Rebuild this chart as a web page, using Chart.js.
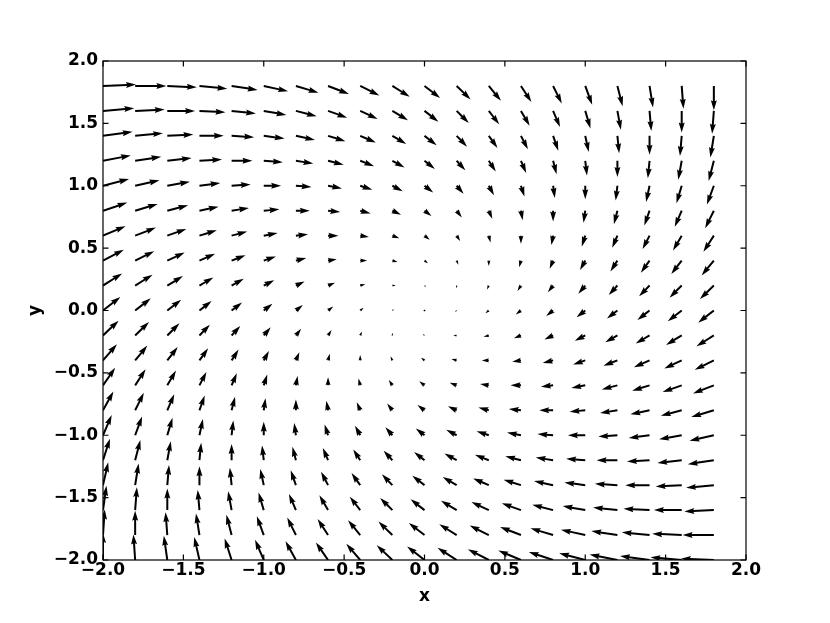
<!DOCTYPE html>
<html>
<head>
<meta charset="utf-8">
<script src="https://cdn.jsdelivr.net/npm/chart.js@4"></script>
<style>
	body { margin: 0; background: #fff; }
</style>
</head>
<body>
<canvas id="quiver-chart" width="830" height="623"></canvas>
<script>
// grid of arrow tails
const xs = [-2.0, -1.8, -1.6, -1.4, -1.2, -1.0, -0.8, -0.6, -0.4, -0.2, 0.0, 0.2, 0.4, 0.6, 0.8, 1.0, 1.2, 1.4, 1.6, 1.8]
const ys = [-2.0, -1.8, -1.6, -1.4, -1.2, -1.0, -0.8, -0.6, -0.4, -0.2, 0.0, 0.2, 0.4, 0.6, 0.8, 1.0, 1.2, 1.4, 1.6, 1.8]

// arrow components, one row per y value (bottom row first)
const U = [
	[0.0, -0.2, -0.4, -0.6, -0.8, -1.0, -1.2, -1.4, -1.6, -1.8, -2.0, -2.2, -2.4, -2.6, -2.8, -3.0, -3.2, -3.4, -3.6, -3.8],
	[0.2, 0.0, -0.2, -0.4, -0.6, -0.8, -1.0, -1.2, -1.4, -1.6, -1.8, -2.0, -2.2, -2.4, -2.6, -2.8, -3.0, -3.2, -3.4, -3.6],
	[0.4, 0.2, 0.0, -0.2, -0.4, -0.6, -0.8, -1.0, -1.2, -1.4, -1.6, -1.8, -2.0, -2.2, -2.4, -2.6, -2.8, -3.0, -3.2, -3.4],
	[0.6, 0.4, 0.2, 0.0, -0.2, -0.4, -0.6, -0.8, -1.0, -1.2, -1.4, -1.6, -1.8, -2.0, -2.2, -2.4, -2.6, -2.8, -3.0, -3.2],
	[0.8, 0.6, 0.4, 0.2, 0.0, -0.2, -0.4, -0.6, -0.8, -1.0, -1.2, -1.4, -1.6, -1.8, -2.0, -2.2, -2.4, -2.6, -2.8, -3.0],
	[1.0, 0.8, 0.6, 0.4, 0.2, 0.0, -0.2, -0.4, -0.6, -0.8, -1.0, -1.2, -1.4, -1.6, -1.8, -2.0, -2.2, -2.4, -2.6, -2.8],
	[1.2, 1.0, 0.8, 0.6, 0.4, 0.2, 0.0, -0.2, -0.4, -0.6, -0.8, -1.0, -1.2, -1.4, -1.6, -1.8, -2.0, -2.2, -2.4, -2.6],
	[1.4, 1.2, 1.0, 0.8, 0.6, 0.4, 0.2, 0.0, -0.2, -0.4, -0.6, -0.8, -1.0, -1.2, -1.4, -1.6, -1.8, -2.0, -2.2, -2.4],
	[1.6, 1.4, 1.2, 1.0, 0.8, 0.6, 0.4, 0.2, 0.0, -0.2, -0.4, -0.6, -0.8, -1.0, -1.2, -1.4, -1.6, -1.8, -2.0, -2.2],
	[1.8, 1.6, 1.4, 1.2, 1.0, 0.8, 0.6, 0.4, 0.2, 0.0, -0.2, -0.4, -0.6, -0.8, -1.0, -1.2, -1.4, -1.6, -1.8, -2.0],
	[2.0, 1.8, 1.6, 1.4, 1.2, 1.0, 0.8, 0.6, 0.4, 0.2, 0.0, -0.2, -0.4, -0.6, -0.8, -1.0, -1.2, -1.4, -1.6, -1.8],
	[2.2, 2.0, 1.8, 1.6, 1.4, 1.2, 1.0, 0.8, 0.6, 0.4, 0.2, 0.0, -0.2, -0.4, -0.6, -0.8, -1.0, -1.2, -1.4, -1.6],
	[2.4, 2.2, 2.0, 1.8, 1.6, 1.4, 1.2, 1.0, 0.8, 0.6, 0.4, 0.2, 0.0, -0.2, -0.4, -0.6, -0.8, -1.0, -1.2, -1.4],
	[2.6, 2.4, 2.2, 2.0, 1.8, 1.6, 1.4, 1.2, 1.0, 0.8, 0.6, 0.4, 0.2, 0.0, -0.2, -0.4, -0.6, -0.8, -1.0, -1.2],
	[2.8, 2.6, 2.4, 2.2, 2.0, 1.8, 1.6, 1.4, 1.2, 1.0, 0.8, 0.6, 0.4, 0.2, 0.0, -0.2, -0.4, -0.6, -0.8, -1.0],
	[3.0, 2.8, 2.6, 2.4, 2.2, 2.0, 1.8, 1.6, 1.4, 1.2, 1.0, 0.8, 0.6, 0.4, 0.2, 0.0, -0.2, -0.4, -0.6, -0.8],
	[3.2, 3.0, 2.8, 2.6, 2.4, 2.2, 2.0, 1.8, 1.6, 1.4, 1.2, 1.0, 0.8, 0.6, 0.4, 0.2, 0.0, -0.2, -0.4, -0.6],
	[3.4, 3.2, 3.0, 2.8, 2.6, 2.4, 2.2, 2.0, 1.8, 1.6, 1.4, 1.2, 1.0, 0.8, 0.6, 0.4, 0.2, 0.0, -0.2, -0.4],
	[3.6, 3.4, 3.2, 3.0, 2.8, 2.6, 2.4, 2.2, 2.0, 1.8, 1.6, 1.4, 1.2, 1.0, 0.8, 0.6, 0.4, 0.2, 0.0, -0.2],
	[3.8, 3.6, 3.4, 3.2, 3.0, 2.8, 2.6, 2.4, 2.2, 2.0, 1.8, 1.6, 1.4, 1.2, 1.0, 0.8, 0.6, 0.4, 0.2, 0.0]
]

const V = [
	[4.0, 3.8, 3.6, 3.4, 3.2, 3.0, 2.8, 2.6, 2.4, 2.2, 2.0, 1.8, 1.6, 1.4, 1.2, 1.0, 0.8, 0.6, 0.4, 0.2],
	[3.8, 3.6, 3.4, 3.2, 3.0, 2.8, 2.6, 2.4, 2.2, 2.0, 1.8, 1.6, 1.4, 1.2, 1.0, 0.8, 0.6, 0.4, 0.2, 0.0],
	[3.6, 3.4, 3.2, 3.0, 2.8, 2.6, 2.4, 2.2, 2.0, 1.8, 1.6, 1.4, 1.2, 1.0, 0.8, 0.6, 0.4, 0.2, 0.0, -0.2],
	[3.4, 3.2, 3.0, 2.8, 2.6, 2.4, 2.2, 2.0, 1.8, 1.6, 1.4, 1.2, 1.0, 0.8, 0.6, 0.4, 0.2, 0.0, -0.2, -0.4],
	[3.2, 3.0, 2.8, 2.6, 2.4, 2.2, 2.0, 1.8, 1.6, 1.4, 1.2, 1.0, 0.8, 0.6, 0.4, 0.2, 0.0, -0.2, -0.4, -0.6],
	[3.0, 2.8, 2.6, 2.4, 2.2, 2.0, 1.8, 1.6, 1.4, 1.2, 1.0, 0.8, 0.6, 0.4, 0.2, 0.0, -0.2, -0.4, -0.6, -0.8],
	[2.8, 2.6, 2.4, 2.2, 2.0, 1.8, 1.6, 1.4, 1.2, 1.0, 0.8, 0.6, 0.4, 0.2, 0.0, -0.2, -0.4, -0.6, -0.8, -1.0],
	[2.6, 2.4, 2.2, 2.0, 1.8, 1.6, 1.4, 1.2, 1.0, 0.8, 0.6, 0.4, 0.2, 0.0, -0.2, -0.4, -0.6, -0.8, -1.0, -1.2],
	[2.4, 2.2, 2.0, 1.8, 1.6, 1.4, 1.2, 1.0, 0.8, 0.6, 0.4, 0.2, 0.0, -0.2, -0.4, -0.6, -0.8, -1.0, -1.2, -1.4],
	[2.2, 2.0, 1.8, 1.6, 1.4, 1.2, 1.0, 0.8, 0.6, 0.4, 0.2, 0.0, -0.2, -0.4, -0.6, -0.8, -1.0, -1.2, -1.4, -1.6],
	[2.0, 1.8, 1.6, 1.4, 1.2, 1.0, 0.8, 0.6, 0.4, 0.2, 0.0, -0.2, -0.4, -0.6, -0.8, -1.0, -1.2, -1.4, -1.6, -1.8],
	[1.8, 1.6, 1.4, 1.2, 1.0, 0.8, 0.6, 0.4, 0.2, 0.0, -0.2, -0.4, -0.6, -0.8, -1.0, -1.2, -1.4, -1.6, -1.8, -2.0],
	[1.6, 1.4, 1.2, 1.0, 0.8, 0.6, 0.4, 0.2, 0.0, -0.2, -0.4, -0.6, -0.8, -1.0, -1.2, -1.4, -1.6, -1.8, -2.0, -2.2],
	[1.4, 1.2, 1.0, 0.8, 0.6, 0.4, 0.2, 0.0, -0.2, -0.4, -0.6, -0.8, -1.0, -1.2, -1.4, -1.6, -1.8, -2.0, -2.2, -2.4],
	[1.2, 1.0, 0.8, 0.6, 0.4, 0.2, 0.0, -0.2, -0.4, -0.6, -0.8, -1.0, -1.2, -1.4, -1.6, -1.8, -2.0, -2.2, -2.4, -2.6],
	[1.0, 0.8, 0.6, 0.4, 0.2, 0.0, -0.2, -0.4, -0.6, -0.8, -1.0, -1.2, -1.4, -1.6, -1.8, -2.0, -2.2, -2.4, -2.6, -2.8],
	[0.8, 0.6, 0.4, 0.2, 0.0, -0.2, -0.4, -0.6, -0.8, -1.0, -1.2, -1.4, -1.6, -1.8, -2.0, -2.2, -2.4, -2.6, -2.8, -3.0],
	[0.6, 0.4, 0.2, 0.0, -0.2, -0.4, -0.6, -0.8, -1.0, -1.2, -1.4, -1.6, -1.8, -2.0, -2.2, -2.4, -2.6, -2.8, -3.0, -3.2],
	[0.4, 0.2, 0.0, -0.2, -0.4, -0.6, -0.8, -1.0, -1.2, -1.4, -1.6, -1.8, -2.0, -2.2, -2.4, -2.6, -2.8, -3.0, -3.2, -3.4],
	[0.2, 0.0, -0.2, -0.4, -0.6, -0.8, -1.0, -1.2, -1.4, -1.6, -1.8, -2.0, -2.2, -2.4, -2.6, -2.8, -3.0, -3.2, -3.4, -3.6]
]

const tickValues = [-2.0, -1.5, -1.0, -0.5, 0.0, 0.5, 1.0, 1.5, 2.0]

// arrow length in data units per unit of (u, v)
const arrowScale = 0.054
const shaftWidth = 2

const points = []
ys.forEach((y, j) => {
	xs.forEach((x, i) => {
		points.push({ x: x, y: y, u: U[j][i], v: V[j][i] })
	})
})

const fmt = value => (value < 0 ? '\u2212' : '') + Math.abs(value).toFixed(1)
const font = { family: 'DejaVu Sans', size: 17, weight: 'bold' }

// matplotlib-like arrow polygon, in units of shaft width
drawArrow = (ctx, x0, y0, x1, y1, w) => {
	const dx = x1 - x0
	const dy = y1 - y0
	let len = Math.hypot(dx, dy) / w
	ctx.save()
	ctx.translate(x0, y0)
	ctx.rotate(Math.atan2(dy, dx))
	ctx.scale(w, w)
	ctx.beginPath()
	if (len < 1) {
		for (let k = 0; k < 6; k++) {
			const a = k * Math.PI / 3
			ctx.lineTo(0.5 * Math.cos(a), 0.5 * Math.sin(a))
		}
	} else {
		if (len < 5) {
			const s = len / 5
			ctx.scale(s, s)
			len = 5
		}
		ctx.moveTo(0, 0.5)
		ctx.lineTo(len - 4.5, 0.5)
		ctx.lineTo(len - 5, 1.5)
		ctx.lineTo(len, 0)
		ctx.lineTo(len - 5, -1.5)
		ctx.lineTo(len - 4.5, -0.5)
		ctx.lineTo(0, -0.5)
	}
	ctx.closePath()
	ctx.fill()
	ctx.restore()
}

const quiverPlugin = {
	id: 'quiver',
	afterDatasetsDraw(chart) {
		const { ctx, chartArea, scales: { x, y } } = chart
		ctx.save()
		ctx.beginPath()
		ctx.rect(chartArea.left, chartArea.top, chartArea.right - chartArea.left, chartArea.bottom - chartArea.top)
		ctx.clip()
		ctx.fillStyle = '#000'
		chart.data.datasets[0].data.forEach(p => {
			const px0 = x.getPixelForValue(p.x)
			const py0 = y.getPixelForValue(p.y)
			const px1 = x.getPixelForValue(p.x + p.u * arrowScale)
			const py1 = y.getPixelForValue(p.y + p.v * arrowScale)
			drawArrow(ctx, px0, py0, px1, py1, shaftWidth)
		})
		ctx.restore()
	},
	afterDraw(chart) {
		// frame and inward ticks on all four sides
		const { ctx, chartArea: { left, right, top, bottom }, scales: { x, y } } = chart
		const tl = 5.5
		ctx.save()
		ctx.strokeStyle = '#000'
		ctx.lineWidth = 1.2
		ctx.beginPath()
		tickValues.forEach(t => {
			const px = x.getPixelForValue(t)
			ctx.moveTo(px, top); ctx.lineTo(px, top + tl)
			ctx.moveTo(px, bottom); ctx.lineTo(px, bottom - tl)
			const py = y.getPixelForValue(t)
			ctx.moveTo(left, py); ctx.lineTo(left + tl, py)
			ctx.moveTo(right, py); ctx.lineTo(right - tl, py)
		})
		ctx.stroke()
		ctx.strokeRect(left, top, right - left, bottom - top)
		ctx.restore()
	}
}

const ctxQuiver = document.getElementById('quiver-chart')
const quiverChart = new Chart(ctxQuiver, {
	type: 'scatter',
	data: {
		datasets: [{
			data: points,
			pointRadius: 0,
			pointHoverRadius: 0
		}]
	},
	options: {
		responsive: false,
		animation: false,
		devicePixelRatio: 1,
		layout: { padding: { left: 0, top: 61, right: 84, bottom: 0 } },
		plugins: { legend: { display: false }, tooltip: { enabled: false } },
		scales: {
			x: {
				type: 'linear',
				min: -2, max: 2,
				afterBuildTicks: s => { s.ticks = tickValues.map(v => ({ value: v })) },
				afterFit: s => { s.height = 63 },
				grid: { display: false, drawTicks: false },
				border: { display: false },
				ticks: { color: '#000', font: font, padding: 0, maxRotation: 0, callback: fmt },
				title: { display: true, text: 'x', color: '#000', font: font, padding: { top: 0, bottom: 16 } }
			},
			y: {
				type: 'linear',
				min: -2, max: 2,
				afterBuildTicks: s => { s.ticks = tickValues.map(v => ({ value: v })) },
				afterFit: s => { s.width = 103 },
				grid: { display: false, drawTicks: false },
				border: { display: false },
				ticks: { color: '#000', font: font, padding: 5, callback: fmt },
				title: { display: true, text: 'y', color: '#000', font: font, padding: { top: 25, bottom: 0 } }
			}
		}
	},
	plugins: [quiverPlugin]
})
</script>
</body>
</html>
